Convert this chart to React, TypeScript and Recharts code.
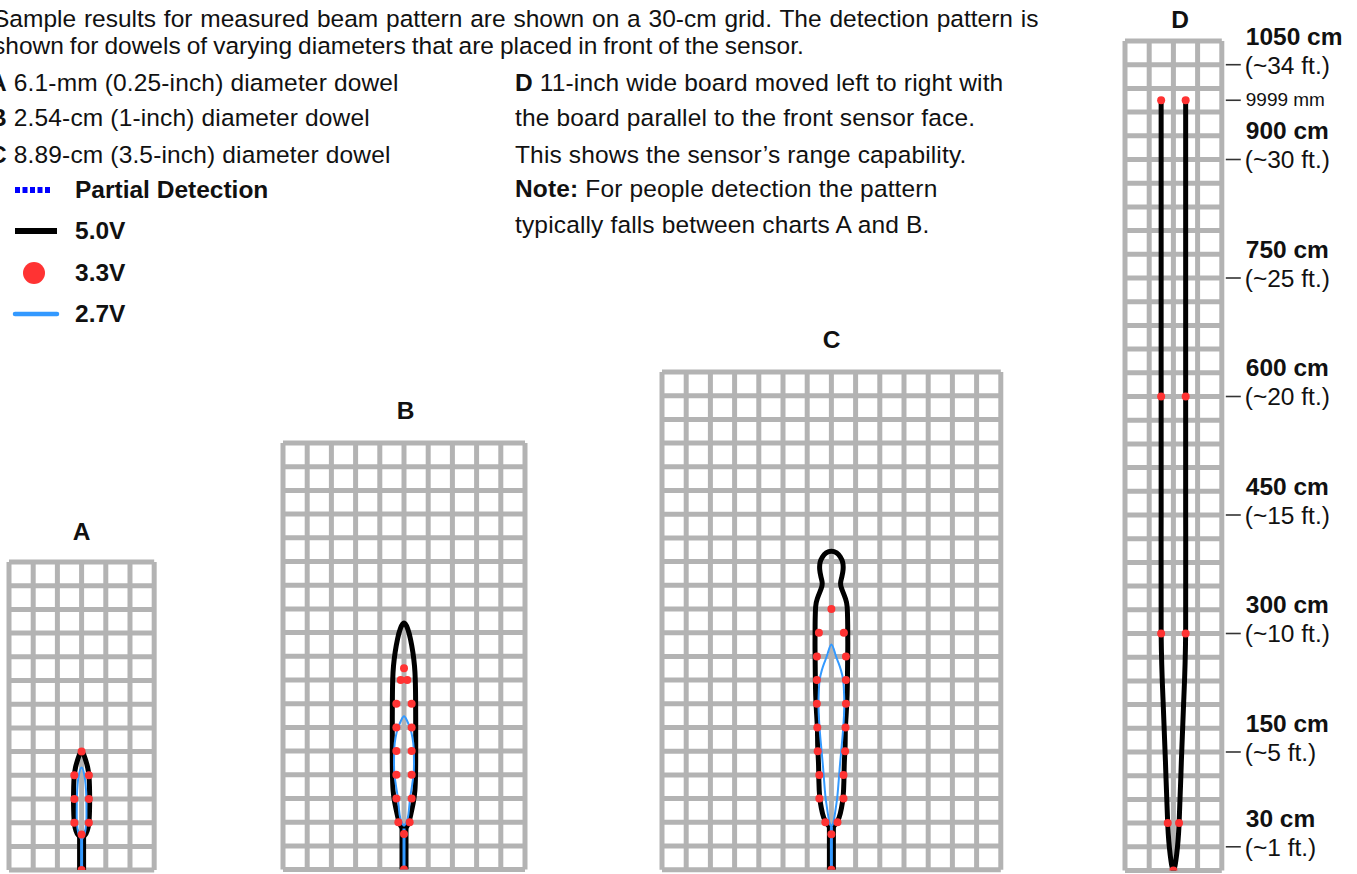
import { ComposedChart, Line, Scatter, XAxis, YAxis, CartesianGrid } from 'recharts';

type Pt = { x: number; y: number };

// x = cm left/right of the sensor axis, y = cm out from the sensor face

// 5.0V detection outline
const outlineA: Pt[] = [
    { x: 0, y: 40 }, { x: -4, y: 44 }, { x: -7, y: 50 }, { x: -9, y: 60 }, { x: -9.8, y: 75 },
    { x: -10, y: 90 }, { x: -9.8, y: 105 }, { x: -9.2, y: 118 }, { x: -7.5, y: 130 }, { x: -4.5, y: 141 },
    { x: 0, y: 150 },
    { x: 4.5, y: 141 }, { x: 7.5, y: 130 }, { x: 9.2, y: 118 }, { x: 9.8, y: 105 }, { x: 10, y: 90 },
    { x: 9.8, y: 75 }, { x: 9, y: 60 }, { x: 7, y: 50 }, { x: 4, y: 44 }, { x: 0, y: 40 },
];

const outlineB: Pt[] = [
    { x: 0, y: 50 }, { x: -5, y: 57 }, { x: -8.5, y: 70 }, { x: -11.5, y: 85 }, { x: -13.5, y: 100 },
    { x: -14.3, y: 120 }, { x: -14.5, y: 140 }, { x: -14.5, y: 165 }, { x: -14.5, y: 190 }, { x: -14.4, y: 215 },
    { x: -14, y: 240 }, { x: -13, y: 258 }, { x: -11, y: 275 }, { x: -8, y: 292 }, { x: -4.5, y: 305 },
    { x: 0, y: 312 },
    { x: 4.5, y: 305 }, { x: 8, y: 292 }, { x: 11, y: 275 }, { x: 13, y: 258 }, { x: 14, y: 240 },
    { x: 14.4, y: 215 }, { x: 14.5, y: 190 }, { x: 14.5, y: 165 }, { x: 14.5, y: 140 }, { x: 14.3, y: 120 },
    { x: 13.5, y: 100 }, { x: 11.5, y: 85 }, { x: 8.5, y: 70 }, { x: 5, y: 57 }, { x: 0, y: 50 },
];

const outlineC: Pt[] = [
    { x: 0, y: 52 }, { x: -4.5, y: 57 }, { x: -9.5, y: 66 }, { x: -12.5, y: 78 }, { x: -14.5, y: 92 },
    { x: -15.5, y: 112 }, { x: -16, y: 135 }, { x: -17, y: 157 }, { x: -17.3, y: 177 }, { x: -18.5, y: 200 },
    { x: -19.5, y: 222 }, { x: -20, y: 250 }, { x: -20.3, y: 280 }, { x: -20.2, y: 310 }, { x: -19.5, y: 333 },
    { x: -17.5, y: 343 }, { x: -14.5, y: 351 }, { x: -12, y: 358 }, { x: -11.5, y: 364 }, { x: -13, y: 371 },
    { x: -14.5, y: 380 }, { x: -14, y: 389 }, { x: -11, y: 396 }, { x: -6.5, y: 401 }, { x: 0, y: 403 },
    { x: 6.5, y: 401 }, { x: 11, y: 396 }, { x: 14, y: 389 }, { x: 14.5, y: 380 }, { x: 13, y: 371 },
    { x: 11.5, y: 364 }, { x: 12, y: 358 }, { x: 14.5, y: 351 }, { x: 17.5, y: 343 }, { x: 19.5, y: 333 },
    { x: 20.2, y: 310 }, { x: 20.3, y: 280 }, { x: 20, y: 250 }, { x: 19.5, y: 222 }, { x: 18.5, y: 200 },
    { x: 17.3, y: 177 }, { x: 17, y: 157 }, { x: 16, y: 135 }, { x: 15.5, y: 112 }, { x: 14.5, y: 92 },
    { x: 12.5, y: 78 }, { x: 9.5, y: 66 }, { x: 4.5, y: 57 }, { x: 0, y: 52 },
];

const outlineD: Pt[] = [
    { x: -15.2, y: 975 }, { x: -15.2, y: 750 }, { x: -15.2, y: 600 }, { x: -15.2, y: 450 }, { x: -15.2, y: 300 },
    { x: -12.8, y: 215 }, { x: -9.9, y: 139 }, { x: -7, y: 58 }, { x: -4, y: 20 }, { x: 0, y: 0 },
    { x: 4, y: 20 }, { x: 7, y: 58 }, { x: 9.9, y: 139 }, { x: 12.8, y: 215 }, { x: 15.2, y: 300 },
    { x: 15.2, y: 450 }, { x: 15.2, y: 600 }, { x: 15.2, y: 750 }, { x: 15.2, y: 975 },
];

// 2.7V detection outline
const innerA: Pt[] = [
    { x: 0, y: 38 }, { x: -3, y: 44 }, { x: -5, y: 52 }, { x: -6, y: 65 }, { x: -6, y: 80 },
    { x: -5.8, y: 95 }, { x: -5, y: 108 }, { x: -3.5, y: 120 }, { x: 0, y: 130 },
    { x: 3.5, y: 120 }, { x: 5, y: 108 }, { x: 5.8, y: 95 }, { x: 6, y: 80 }, { x: 6, y: 65 },
    { x: 5, y: 52 }, { x: 3, y: 44 }, { x: 0, y: 38 },
];

const innerB: Pt[] = [
    { x: 0, y: 55 }, { x: -3, y: 60 }, { x: -5.5, y: 70 }, { x: -7.4, y: 89 }, { x: -9, y: 100 },
    { x: -10.5, y: 110 }, { x: -12, y: 122 }, { x: -12.4, y: 135 }, { x: -12.2, y: 148 }, { x: -11.5, y: 160 },
    { x: -9.3, y: 173 }, { x: -6.5, y: 182 }, { x: -3.5, y: 189 }, { x: 0, y: 194 },
    { x: 3.5, y: 189 }, { x: 6.5, y: 182 }, { x: 9.3, y: 173 }, { x: 11.5, y: 160 }, { x: 12.2, y: 148 },
    { x: 12.4, y: 135 }, { x: 12, y: 122 }, { x: 10.5, y: 110 }, { x: 9, y: 100 }, { x: 7.4, y: 89 },
    { x: 5.5, y: 70 }, { x: 3, y: 60 }, { x: 0, y: 55 },
];

const innerC: Pt[] = [
    { x: 0, y: 54 }, { x: -2.5, y: 60 }, { x: -5, y: 75 }, { x: -7.3, y: 92 }, { x: -9, y: 112 },
    { x: -10.8, y: 135 }, { x: -12.8, y: 157 }, { x: -14.5, y: 177 }, { x: -15.6, y: 195 }, { x: -16, y: 211 },
    { x: -15.6, y: 226 }, { x: -14.6, y: 240 }, { x: -12, y: 252 }, { x: -8.7, y: 262 }, { x: -4.5, y: 274 },
    { x: 0, y: 285 },
    { x: 4.5, y: 274 }, { x: 8.7, y: 262 }, { x: 12, y: 252 }, { x: 14.6, y: 240 }, { x: 15.6, y: 226 },
    { x: 16, y: 211 }, { x: 15.6, y: 195 }, { x: 14.5, y: 177 }, { x: 12.8, y: 157 }, { x: 10.8, y: 135 },
    { x: 9, y: 112 }, { x: 7.3, y: 92 }, { x: 5, y: 75 }, { x: 2.5, y: 60 }, { x: 0, y: 54 },
];

// narrow centre stem from the sensor up to each pattern
const stemA: Pt[] = [{ x: 0, y: 0 }, { x: 0, y: 42 }];
const stemB: Pt[] = [{ x: 0, y: 0 }, { x: 0, y: 52 }];
const stemC: Pt[] = [{ x: 0, y: 0 }, { x: 0, y: 54 }];

// 3.3V detection points
const dotsA: Pt[] = [
    { x: 0, y: 150 }, { x: -9, y: 120 }, { x: 9, y: 120 }, { x: -9, y: 90 }, { x: 9, y: 90 },
    { x: -9, y: 60 }, { x: 9, y: 60 }, { x: 0, y: 45 }, { x: 0, y: 0 },
];

const dotsB: Pt[] = [
    { x: 0, y: 255 }, { x: -4, y: 240 }, { x: 4, y: 240 }, { x: -9.5, y: 210 }, { x: 9.5, y: 210 },
    { x: -9.5, y: 180 }, { x: 9.5, y: 180 }, { x: -9.5, y: 150 }, { x: 9.5, y: 150 }, { x: -9.5, y: 120 },
    { x: 9.5, y: 120 }, { x: -9.5, y: 90 }, { x: 9.5, y: 90 }, { x: -7, y: 60 }, { x: 7, y: 60 },
    { x: 0, y: 45 }, { x: 0, y: 0 },
];

const dotsC: Pt[] = [
    { x: 0, y: 330 }, { x: -15.5, y: 300 }, { x: 15.5, y: 300 }, { x: -18, y: 270 }, { x: 18, y: 270 },
    { x: -18, y: 240 }, { x: 18, y: 240 }, { x: -18, y: 210 }, { x: 18, y: 210 }, { x: -17.5, y: 180 },
    { x: 17.5, y: 180 }, { x: -17, y: 150 }, { x: 17, y: 150 }, { x: -15, y: 120 }, { x: 15, y: 120 },
    { x: -15, y: 90 }, { x: 15, y: 90 }, { x: -7.5, y: 60 }, { x: 7.5, y: 60 }, { x: 0, y: 45 }, { x: 0, y: 0 },
];

const dotsD: Pt[] = [
    { x: -15.2, y: 975 }, { x: 15.2, y: 975 }, { x: -15.2, y: 600 }, { x: 15.2, y: 600 },
    { x: -15.2, y: 300 }, { x: 15.2, y: 300 }, { x: -7, y: 60 }, { x: 7, y: 60 }, { x: 0, y: 0 },
];

// range scale beside chart D
const rangeTicks = [1020, 975, 900, 750, 600, 450, 300, 150, 30];
const rangeCm = ['1050 cm', '9999 mm', '900 cm', '750 cm', '600 cm', '450 cm', '300 cm', '150 cm', '30 cm'];
const rangeFt = ['(~34 ft.)', '', '(~30 ft.)', '(~25 ft.)', '(~20 ft.)', '(~15 ft.)', '(~10 ft.)', '(~5 ft.)', '(~1 ft.)'];

const introLines = [
    'Sample results for measured beam pattern are shown on a 30-cm grid. The detection pattern is',
    'shown for dowels of varying diameters that are placed in front of the sensor.',
];
const dowelKeys = ['A', 'B', 'C'];
const dowelLines = ['6.1-mm (0.25-inch) diameter dowel', '2.54-cm (1-inch) diameter dowel', '8.89-cm (3.5-inch) diameter dowel'];
const boardLines = [
    'the board parallel to the front sensor face.',
    'This shows the sensor\u2019s range capability.',
];
const legendLabels = ['Partial Detection', '5.0V', '3.3V', '2.7V'];

const FONT = '"Liberation Sans", Arial, Helvetica, sans-serif';
const FS = 24.5;
const GRID = '#b3b3b3';
const RED = '#ff3333';
const BLUE = '#3399ff';

const PX_X = 24.2 / 30; // px per cm across
const PX_Y = 23.7 / 30; // px per cm along the beam
const BASE = 870; // y of the sensor line
const PAD = 4;

const RedDot = (props: any) => <circle cx={props.cx} cy={props.cy} r={4} fill={RED} />;

const RangeTick = (props: any) => {
    const { x, y, payload } = props;
    const i = rangeTicks.indexOf(payload.value);
    return (
        <g fontFamily={FONT} fill="#111">
            <line x1={x + 4} x2={x + 19} y1={y} y2={y} stroke="#333" strokeWidth={1.6} />
            {rangeFt[i] ? (
                <>
                    <text x={x + 24} y={y - 20} fontSize={FS} fontWeight="bold">{rangeCm[i]}</text>
                    <text x={x + 23} y={y + 9} fontSize={FS}>{rangeFt[i]}</text>
                </>
            ) : (
                <text x={x + 24} y={y + 6} fontSize={19}>{rangeCm[i]}</text>
            )}
        </g>
    );
};

interface PanelProps {
    title: string;
    cols: number;
    rows: number;
    cx: number;
    titleY: number;
    titleDx?: number;
    outline: Pt[];
    inner?: Pt[];
    stem?: Pt[];
    dots: Pt[];
    axisWidth?: number;
    topRoom?: number;
}

function Panel({ title, cols, rows, cx, titleY, titleDx = 0, outline, inner, stem, dots, axisWidth = 0, topRoom = 0 }: PanelProps) {
    const halfW = cols * 15;
    const plotW = cols * 30 * PX_X;
    const plotH = rows * 30 * PX_Y;
    const left = cx - plotW / 2 - PAD;
    const top = BASE - plotH - PAD - topRoom;
    const vLines = Array.from({ length: cols + 1 }, (_, i) => -halfW + i * 30);
    const hLines = Array.from({ length: rows + 1 }, (_, i) => i * 30);

    return (
        <>
            <div
                style={{
                    position: 'absolute',
                    left: cx + titleDx,
                    top: titleY - 14,
                    transform: 'translateX(-50%)',
                    fontWeight: 'bold',
                    fontSize: FS,
                    lineHeight: '28px',
                }}
            >
                {title}
            </div>
            <div style={{ position: 'absolute', left, top }}>
                <ComposedChart
                    width={plotW + 2 * PAD + axisWidth}
                    height={plotH + 2 * PAD + topRoom}
                    margin={{ top: PAD + topRoom, right: PAD, bottom: PAD, left: PAD }}
                >
                    <CartesianGrid
                        stroke={GRID}
                        strokeWidth={5}
                        horizontalValues={hLines}
                        verticalValues={vLines}
                    />
                    <XAxis
                        type="number"
                        dataKey="x"
                        domain={[-halfW, halfW]}
                        ticks={vLines}
                        interval={0}
                        allowDataOverflow
                        hide
                    />
                    <YAxis
                        type="number"
                        dataKey="y"
                        domain={[0, rows * 30]}
                        allowDataOverflow
                        orientation="right"
                        hide={!axisWidth}
                        width={axisWidth || 60}
                        ticks={rangeTicks}
                        interval={0}
                        axisLine={false}
                        tickLine={false}
                        tickSize={0}
                        tickMargin={0}
                        tick={<RangeTick />}
                    />
                    {stem && (
                        <Line data={stem} dataKey="y" type="linear" stroke="#000" strokeWidth={9}
                            dot={false} activeDot={false} isAnimationActive={false} />
                    )}
                    <Line data={outline} dataKey="y" type="natural" stroke="#000" strokeWidth={5}
                        strokeLinejoin="round" strokeLinecap="round"
                        dot={false} activeDot={false} isAnimationActive={false} />
                    {inner && (
                        <Line data={inner} dataKey="y" type="natural" stroke={BLUE} strokeWidth={2}
                            dot={false} activeDot={false} isAnimationActive={false} />
                    )}
                    {stem && (
                        <Line data={stem} dataKey="y" type="linear" stroke={BLUE} strokeWidth={3}
                            dot={false} activeDot={false} isAnimationActive={false} />
                    )}
                    <Scatter data={dots} shape={RedDot} isAnimationActive={false} />
                </ComposedChart>
            </div>
        </>
    );
}

const textLine = (top: number, left: number): React.CSSProperties => ({
    position: 'absolute',
    left,
    top,
    whiteSpace: 'nowrap',
    lineHeight: '28px',
});

export default function App() {
    return (
        <div
            style={{
                position: 'absolute',
                left: 0,
                top: 0,
                width: 1357,
                height: 874,
                overflow: 'hidden',
                background: '#fff',
                color: '#111',
                fontFamily: FONT,
                fontSize: FS,
            }}
        >
            {introLines.map((t, i) => (
                <div key={t} style={{ ...textLine(5 + i * 27, -7), wordSpacing: i === 0 ? 1 : -0.8 }}>{t}</div>
            ))}
            {dowelLines.map((t, i) => (
                <div key={t} style={{ ...textLine(69 + [0, 35, 72][i], -11), letterSpacing: 0.15 }}>
                    <b>{dowelKeys[i]}</b> {t}
                </div>
            ))}
            <div style={{ ...textLine(69, 515), letterSpacing: 0.15 }}>
                <b>D</b> 11-inch wide board moved left to right with
            </div>
            {boardLines.map((t, i) => (
                <div key={t} style={{ ...textLine(104 + i * 37, 515), letterSpacing: 0.15 }}>{t}</div>
            ))}
            <div style={{ ...textLine(175, 515), letterSpacing: 0.15 }}>
                <b>Note:</b> For people detection the pattern
            </div>
            <div style={{ ...textLine(211, 515), letterSpacing: 0.15 }}>typically falls between charts A and B.</div>

            {/* legend */}
            <svg width={70} height={150} style={{ position: 'absolute', left: 0, top: 170 }}>
                <line x1={15} x2={50} y1={20} y2={20} stroke="#0000ff" strokeWidth={6} strokeDasharray="5 2.5" />
                <line x1={15} x2={57} y1={61} y2={61} stroke="#000" strokeWidth={6} />
                <circle cx={34} cy={103} r={11} fill={RED} />
                <line x1={15} x2={57} y1={144} y2={144} stroke={BLUE} strokeWidth={4.5} strokeLinecap="round" />
            </svg>
            {legendLabels.map((t, i) => (
                <div key={t} style={{ ...textLine([176, 217, 259, 300][i], 75), fontWeight: 'bold' }}>{t}</div>
            ))}

            <Panel title="A" cols={6} rows={13} cx={81.5} titleY={532}
                outline={outlineA} inner={innerA} stem={stemA} dots={dotsA} />
            <Panel title="B" cols={10} rows={18} cx={403.5} titleY={411} titleDx={2}
                outline={outlineB} inner={innerB} stem={stemB} dots={dotsB} />
            <Panel title="C" cols={14} rows={21} cx={831.7} titleY={340}
                outline={outlineC} inner={innerC} stem={stemC} dots={dotsC} />
            <Panel title="D" cols={4} rows={35} cx={1173} titleY={20} titleDx={7}
                outline={outlineD} dots={dotsD} axisWidth={130} topRoom={40} />
        </div>
    );
}
